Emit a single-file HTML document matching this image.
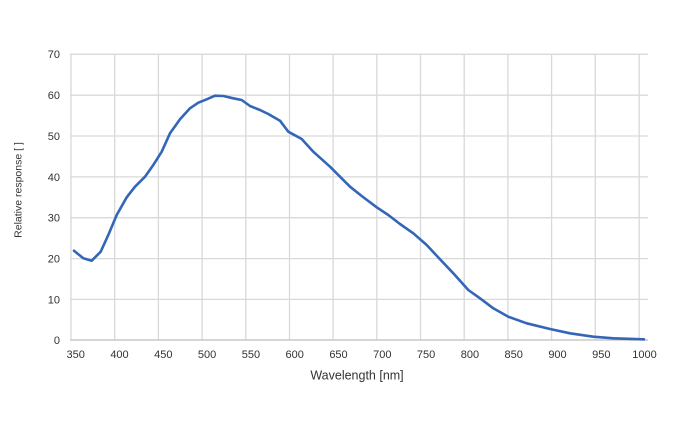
<!DOCTYPE html>
<html>
<head>
<meta charset="utf-8">
<style>
html,body{margin:0;padding:0;background:#fff;}
svg{display:block;}
text{font-family:"Liberation Sans",Arial,sans-serif;fill:#333;}
</style>
</head>
<body>
<svg width="690" height="428" viewBox="0 0 690 428" xmlns="http://www.w3.org/2000/svg">
<rect width="690" height="428" fill="#fff"/>
<g stroke="#d9d9d9" stroke-width="1.3" fill="none">
<line x1="70" y1="54.3" x2="648" y2="54.3"/>
<line x1="70" y1="95.2" x2="648" y2="95.2"/>
<line x1="70" y1="136" x2="648" y2="136"/>
<line x1="70" y1="176.9" x2="648" y2="176.9"/>
<line x1="70" y1="217.7" x2="648" y2="217.7"/>
<line x1="70" y1="258.6" x2="648" y2="258.6"/>
<line x1="70" y1="299.4" x2="648" y2="299.4"/>
<line x1="71" y1="54" x2="71" y2="340"/>
<line x1="114.7" y1="54" x2="114.7" y2="340"/>
<line x1="158.4" y1="54" x2="158.4" y2="340"/>
<line x1="202.1" y1="54" x2="202.1" y2="340"/>
<line x1="245.8" y1="54" x2="245.8" y2="340"/>
<line x1="289.5" y1="54" x2="289.5" y2="340"/>
<line x1="333.1" y1="54" x2="333.1" y2="340"/>
<line x1="376.8" y1="54" x2="376.8" y2="340"/>
<line x1="420.5" y1="54" x2="420.5" y2="340"/>
<line x1="464.2" y1="54" x2="464.2" y2="340"/>
<line x1="507.9" y1="54" x2="507.9" y2="340"/>
<line x1="551.6" y1="54" x2="551.6" y2="340"/>
<line x1="595.3" y1="54" x2="595.3" y2="340"/>
<line x1="639.2" y1="54" x2="639.2" y2="340"/>
</g>
<line x1="70" y1="340" x2="648" y2="340" stroke="#c8c8c8" stroke-width="1.5"/>
<polyline fill="none" stroke="#3466b8" stroke-width="2.6" stroke-linejoin="round" stroke-linecap="round"
points="74,250.7 83.3,258.3 91.7,260.7 100.7,251.7 108.3,235 116.7,215 126.7,197.3 135,186.7 145,176.7 153.3,165 161.7,151.7 170,133.3 180,119.3 190,108.3 198.3,102.7 206.7,99.3 215,95.7 223.3,96 233.3,98.3 241.7,100 250,106 260,110 268.3,114 280,120.7 288.3,131.7 301.7,139 313.3,151.7 330,166.7 340,176.7 350,186.7 361.7,196 376.7,207.3 388.3,215 400,224 413.3,233.3 426.7,245 440,259.3 453.3,273.3 468.3,290 480,298.3 493.3,308.3 508.3,316.7 526.7,323.3 550,329 570,333.3 593.3,336.7 613.3,338.3 644,339.3"/>
<g font-size="11" text-anchor="end">
<text x="60" y="58">70</text>
<text x="60" y="99">60</text>
<text x="60" y="140">50</text>
<text x="60" y="181">40</text>
<text x="60" y="221.7">30</text>
<text x="60" y="262.6">20</text>
<text x="60" y="303.4">10</text>
<text x="60" y="344">0</text>
</g>
<g font-size="11" text-anchor="middle">
<text x="75.7" y="358">350</text>
<text x="119.5" y="358">400</text>
<text x="163.3" y="358">450</text>
<text x="207.1" y="358">500</text>
<text x="250.9" y="358">550</text>
<text x="294.7" y="358">600</text>
<text x="338.5" y="358">650</text>
<text x="382.3" y="358">700</text>
<text x="426.1" y="358">750</text>
<text x="469.9" y="358">800</text>
<text x="513.7" y="358">850</text>
<text x="557.5" y="358">900</text>
<text x="601.3" y="358">950</text>
<text x="644.5" y="358">1000</text>
</g>
<text x="357" y="379.5" font-size="12.5" text-anchor="middle">Wavelength [nm]</text>
<text x="0" y="0" font-size="10.5" text-anchor="middle" transform="translate(21.5,190) rotate(-90)">Relative response [ ]</text>
</svg>
</body>
</html>
